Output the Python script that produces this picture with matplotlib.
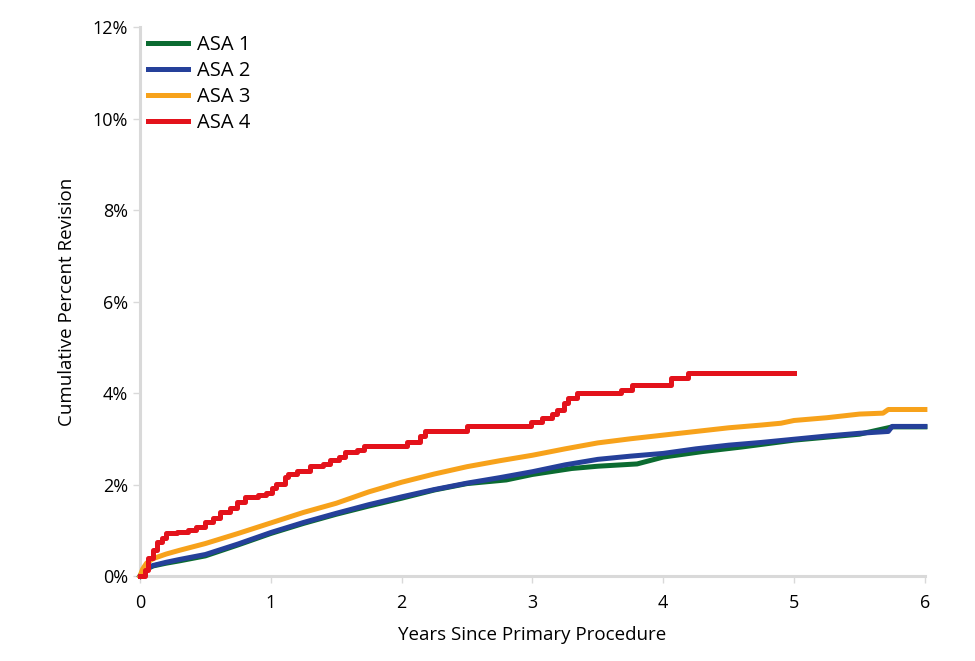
import matplotlib.pyplot as plt
from matplotlib.ticker import FuncFormatter

plt.rcParams['font.family'] = ['Open Sans', 'DejaVu Sans']

# ASA 1 (green)
asa1_years = [0, 0.02, 0.05, 0.1, 0.2, 0.3, 0.5, 0.75, 1.0, 1.25, 1.5, 1.75, 2.0, 2.25, 2.5,
              2.8, 3.0, 3.3, 3.5, 3.8, 4.0, 4.3, 4.6, 5.0, 5.5, 5.75, 6.0]
asa1_pct = [0, 0.08, 0.15, 0.22, 0.28, 0.33, 0.44, 0.68, 0.93, 1.15, 1.35, 1.53, 1.70, 1.88, 2.02,
            2.10, 2.22, 2.35, 2.40, 2.45, 2.60, 2.72, 2.82, 2.97, 3.10, 3.26, 3.26]

# ASA 2 (blue)
asa2_years = [0, 0.02, 0.05, 0.1, 0.2, 0.3, 0.5, 0.75, 1.0, 1.25, 1.5, 1.75, 2.0, 2.25, 2.5,
              2.75, 3.0, 3.25, 3.5, 3.75, 4.0, 4.25, 4.5, 4.75, 5.0, 5.25, 5.5, 5.72, 5.75, 6.0]
asa2_pct = [0, 0.08, 0.16, 0.23, 0.30, 0.36, 0.47, 0.70, 0.95, 1.17, 1.37, 1.56, 1.73, 1.89, 2.03,
            2.15, 2.28, 2.43, 2.55, 2.62, 2.68, 2.78, 2.86, 2.92, 2.99, 3.06, 3.12, 3.16, 3.27, 3.27]

# ASA 3 (orange)
asa3_years = [0, 0.02, 0.05, 0.1, 0.2, 0.3, 0.5, 0.75, 1.0, 1.25, 1.5, 1.75, 2.0, 2.25, 2.5,
              2.75, 3.0, 3.25, 3.5, 3.75, 4.0, 4.25, 4.5, 4.75, 4.9, 5.0, 5.25, 5.5, 5.68, 5.72, 6.0]
asa3_pct = [0, 0.15, 0.28, 0.38, 0.48, 0.56, 0.71, 0.93, 1.16, 1.39, 1.59, 1.84, 2.05, 2.23, 2.39,
            2.52, 2.64, 2.78, 2.91, 3.00, 3.08, 3.16, 3.24, 3.30, 3.34, 3.40, 3.46, 3.54, 3.56, 3.64, 3.64]

# ASA 4 (red) - step curve
asa4_years = [0, 0.04, 0.06, 0.1, 0.13, 0.17, 0.2, 0.28, 0.37, 0.43, 0.5, 0.56, 0.61, 0.69, 0.74,
              0.8, 0.9, 0.96, 1.01, 1.04, 1.11, 1.13, 1.2, 1.3, 1.4, 1.45, 1.52, 1.57, 1.66, 1.71,
              2.04, 2.14, 2.18, 2.5, 2.99, 3.07, 3.15, 3.19, 3.24, 3.27, 3.34, 3.43, 3.68, 3.76,
              4.06, 4.19, 5.0]
asa4_pct = [0, 0.13, 0.39, 0.57, 0.75, 0.83, 0.94, 0.97, 1.0, 1.08, 1.17, 1.26, 1.41, 1.48, 1.62,
            1.73, 1.77, 1.82, 1.92, 2.01, 2.17, 2.24, 2.30, 2.40, 2.45, 2.54, 2.61, 2.70, 2.75, 2.85,
            2.94, 3.05, 3.16, 3.28, 3.37, 3.45, 3.54, 3.63, 3.79, 3.89, 4.0, 4.01, 4.07, 4.17,
            4.32, 4.44, 4.44]

fig = plt.figure(figsize=(9.75, 6.61), dpi=100)
ax = fig.add_axes([0.1436, 0.1286, 0.805, 0.8304])

lw = 3.6
ax.plot(asa1_years, asa1_pct, color='#0b6b31', lw=lw, label='ASA 1', clip_on=False, zorder=3)
ax.plot(asa2_years, asa2_pct, color='#25409a', lw=lw, label='ASA 2', clip_on=False, zorder=4)
ax.plot(asa3_years, asa3_pct, color='#f7a21b', lw=lw, label='ASA 3', clip_on=False, zorder=5)
ax.plot(asa4_years, asa4_pct, color='#e3121b', lw=lw, label='ASA 4', drawstyle='steps-post',
        clip_on=False, zorder=6)

ax.set_xlim(0, 6)
ax.set_ylim(0, 12)
ax.set_xticks(range(0, 7))
ax.set_yticks(range(0, 13, 2))
ax.yaxis.set_major_formatter(FuncFormatter(lambda v, p: f'{int(v)}%'))

for s in ['top', 'right']:
    ax.spines[s].set_visible(False)
for s in ['left', 'bottom']:
    ax.spines[s].set_color('#d9d9d9')
    ax.spines[s].set_linewidth(2.2)
ax.tick_params(axis='both', colors='#d9d9d9', labelcolor='black', labelsize=13,
               length=5, width=1)
ax.tick_params(axis='x', pad=8)

ax.set_xlabel('Years Since Primary Procedure', fontsize=13.5, labelpad=10)
ax.set_ylabel('Cumulative Percent Revision', fontsize=13.5, labelpad=12)

ax.legend(loc='upper left', bbox_to_anchor=(0.0, 1.0), borderaxespad=0, frameon=False,
          fontsize=14.5, handlelength=2.0, handletextpad=0.45, labelspacing=0.3)

fig.savefig('out.png', dpi=100)
